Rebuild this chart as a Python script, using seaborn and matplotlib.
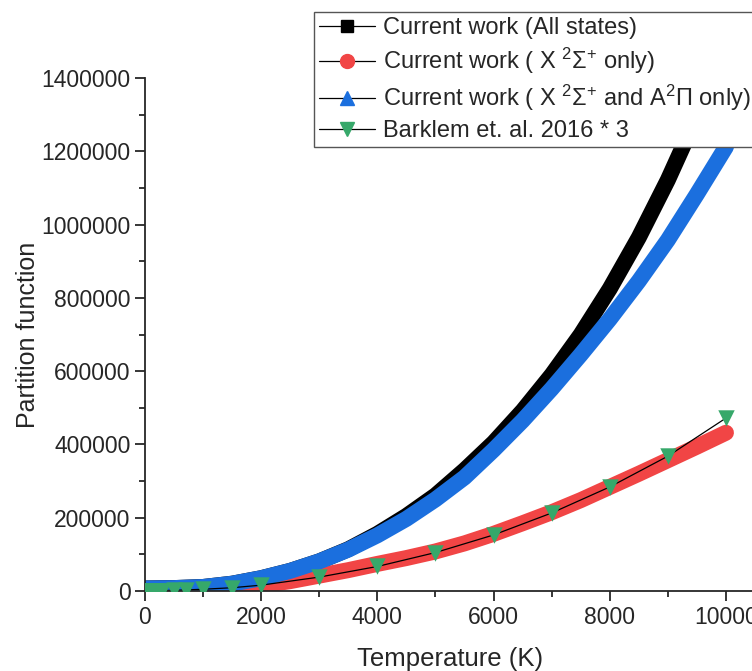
import matplotlib
matplotlib.use("Agg")
import matplotlib.pyplot as plt
from matplotlib.lines import Line2D
from matplotlib.ticker import MultipleLocator
import pandas as pd
import seaborn as sns

sns.set_style("ticks")
plt.rcParams["font.family"] = ["Liberation Sans", "DejaVu Sans"]
plt.rcParams["mathtext.fontset"] = "custom"
plt.rcParams["mathtext.rm"] = "Liberation Sans"
plt.rcParams["mathtext.it"] = "Liberation Sans:italic"

# temperature grid (K) for the calculated curves
temps = [0, 500, 1000, 1500, 2000, 2500, 3000, 3500, 4000, 4500, 5000,
         5500, 6000, 6500, 7000, 7500, 8000, 8500, 9000, 9500, 10000]
q_all = [7000, 8000, 11000, 20000, 35000, 55000, 81000, 114000, 156000, 205000, 261000,
         330000, 405000, 492000, 590000, 700000, 825000, 965000, 1122000, 1297000, 1490000]
q_x_only = [3000, 3500, 5000, 9000, 15000, 27000, 42000, 57000, 74000, 90000, 108000,
            130000, 156000, 185000, 215000, 248000, 284000, 320000, 357000, 394000, 432000]
q_x_a = [7000, 8000, 11000, 20000, 35000, 55000, 81000, 113000, 152000, 197000, 250000,
         310000, 385000, 465000, 552000, 645000, 742000, 846000, 958000, 1083000, 1212000]

# Barklem & Collet 2016 (x3)
barklem_t = [0, 10, 30, 70, 100, 130, 170, 200, 250, 300, 500, 700, 1000, 1500,
             2000, 3000, 4000, 5000, 6000, 7000, 8000, 9000, 10000]
barklem_q = [5, 40, 120, 300, 430, 560, 730, 860, 1070, 1280, 2000, 3000, 4800, 9000,
             16000, 38000, 67000, 105000, 153000, 213000, 284000, 368000, 472000]

curves = pd.DataFrame({"T": temps, "all": q_all, "x": q_x_only, "xa": q_x_a})
barklem = pd.DataFrame({"T": barklem_t, "Q": barklem_q})

c_black = "black"
c_red = "#F14545"
c_blue = "#1B6FDE"
c_green = "#36A86A"

fig = plt.figure(figsize=(7.52, 6.71), dpi=100)
ax = fig.add_axes([0.1928, 0.1192, 0.8112, 0.7645])

band = dict(linewidth=11.5, solid_capstyle="round", solid_joinstyle="round")
sns.lineplot(data=curves, x="T", y="all", color=c_black, ax=ax, **band)
sns.lineplot(data=curves, x="T", y="x", color=c_red, ax=ax, **band)
sns.lineplot(data=curves, x="T", y="xa", color=c_blue, ax=ax, **band)
sns.lineplot(data=barklem, x="T", y="Q", color="black", linewidth=0.9, ax=ax)
sns.scatterplot(data=barklem, x="T", y="Q", marker="v", color=c_green, s=140,
                linewidth=0, ax=ax, zorder=5)

ax.set_xlim(0, 10500)
ax.set_ylim(0, 1400000)
ax.xaxis.set_major_locator(MultipleLocator(2000))
ax.xaxis.set_minor_locator(MultipleLocator(1000))
ax.yaxis.set_major_locator(MultipleLocator(200000))
ax.yaxis.set_minor_locator(MultipleLocator(100000))
ax.ticklabel_format(style="plain", axis="y", useOffset=False)
ax.tick_params(which="major", length=7, width=1.3, labelsize=16.5, direction="out")
ax.tick_params(which="minor", length=4, width=1.3, direction="out")
for s in ["left", "bottom"]:
    ax.spines[s].set_linewidth(1.3)
sns.despine(ax=ax)

ax.set_xlabel("Temperature (K)", fontsize=18.5, labelpad=13)
ax.set_ylabel("Partition function", fontsize=18, labelpad=1)

handles = [
    Line2D([], [], color="black", lw=0.9, marker="s", ms=8, mfc="black", mec="black"),
    Line2D([], [], color="black", lw=0.9, marker="o", ms=10, mfc=c_red, mec=c_red),
    Line2D([], [], color="black", lw=0.9, marker="^", ms=10, mfc=c_blue, mec=c_blue),
    Line2D([], [], color="black", lw=0.9, marker="v", ms=10, mfc=c_green, mec=c_green),
]
labels = [
    "Current work (All states)",
    r"Current work ( X $^{2}\Sigma^{+}$ only)",
    r"Current work ( X $^{2}\Sigma^{+}$ and A$^{2}\Pi$ only)",
    "Barklem et. al. 2016 * 3",
]
leg = fig.legend(handles, labels, loc="upper left", bbox_to_anchor=(0.4176, 0.982),
                 bbox_transform=fig.transFigure, fontsize=17, frameon=True,
                 fancybox=False, framealpha=1, edgecolor="#555555",
                 borderpad=0.2, labelspacing=0.3, handlelength=2.4,
                 handletextpad=0.3, borderaxespad=0)
leg.get_frame().set_linewidth(1.0)

fig.savefig("out.png", dpi=100)
